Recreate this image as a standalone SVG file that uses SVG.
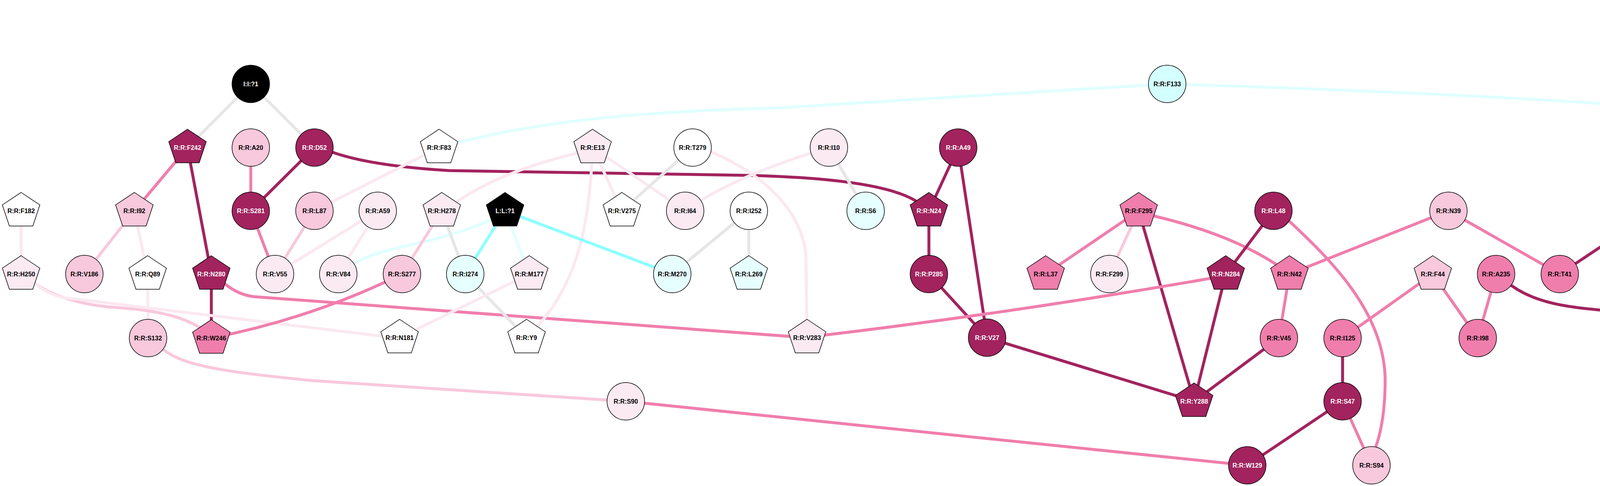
<svg xmlns="http://www.w3.org/2000/svg" xmlns:xlink="http://www.w3.org/1999/xlink" width="5999" height="1245" viewBox="0 0 5999 1245">
<style>
.bg{fill:#fff}
#edges path{fill:none;stroke-width:7.5}
.dk-e{stroke:#A2235E}.md-e{stroke:#F07EAC}.lt-e{stroke:#F8C8DC}.vl-e{stroke:#FBE8F1}.gy-e{stroke:#E6E6E6}.cy-e{stroke:#E0FFFF}.cl-e{stroke:#D4FFFF}.cm-e{stroke:#8CFFFF}
.nd circle,.nd use{stroke:#000;stroke-width:1.5}
.nd text{font-family:"Liberation Sans",Arial,sans-serif;font-size:16px;font-weight:bold;text-anchor:middle;dominant-baseline:central;fill:#000;stroke:none}
.dk{fill:#A2235E}.md{fill:#F07EAC}.lt{fill:#F8C8DC}.vl{fill:#FBEAF2}.wh{fill:#FFFFFF}.cv{fill:#E6FFFF}.cl{fill:#D4FFFF}.cs{fill:#12C6D1}.bk{fill:#000}
.nd.dk text,.nd.bk text{fill:#fff}
</style>
<defs>
<path id="p" d="M0,-47 L48,-15 L30,39 L-30,39 L-48,-15 Z"/>
</defs>
<rect class="bg" x="0" y="0" width="5999" height="1245"/>
<g id="edges">
<path class="gy-e" d="M642,215 L480,378"/>
<path class="gy-e" d="M642,215 L805,378"/>
<path class="md-e" d="M480,378 L344,540"/>
<path class="dk-e" d="M480,378 L541,702"/>
<path class="md-e" d="M642,378 L642,540"/>
<path class="dk-e" d="M805,378 L642,540"/>
<path class="dk-e" d="M805,375 L851,390 Q950,425 1150,437 L1900,449 Q2250,456 2345,515 L2378,540"/>
<path class="vl-e" d="M54,540 L54,702"/>
<path class="lt-e" d="M344,540 L216,702"/>
<path class="vl-e" d="M344,540 L378,702"/>
<path class="dk-e" d="M541,702 L541,866"/>
<path class="md-e" d="M541,702 L577,728 Q610,755 650,760 L2066,865"/>
<path class="md-e" d="M642,540 L704,702"/>
<path class="lt-e" d="M805,540 L704,702"/>
<path class="vl-e" d="M967,540 L704,702"/>
<path class="vl-e" d="M967,540 L866,702"/>
<path class="vl-e" d="M1124,378 L805,540"/>
<path class="vl-e" d="M378,702 L379,866"/>
<path class="lt-e" d="M54,702 L89,726 C140,762 220,783 300,788 C400,795 470,810 520,845 L541,866"/>
<path class="vl-e" d="M54,702 L89,726 Q120,752 160,762 L976,861 L1023,865"/>
<path class="lt-e" d="M379,866 L418,895 C470,940 600,955 800,975 L1602,1028"/>
<path class="md-e" d="M1602,1028 L3193,1192"/>
<path class="md-e" d="M541,866 Q800,815 1029,702"/>
<path class="cy-e" d="M866,702 L906,676 C950,645 1050,630 1130,608 Q1210,585 1260,562 L1293,540"/>
<path class="lt-e" d="M1131,540 L1029,702"/>
<path class="gy-e" d="M1131,540 L1191,702"/>
<path class="vl-e" d="M1131,540 L1166,519 Q1280,440 1478,392 L1517,378"/>
<path class="cy-e" d="M1124,378 C1400,300 1700,285 2000,276 L2988,215"/>
<path class="vl-e" d="M1517,378 L1592,540"/>
<path class="vl-e" d="M1517,378 L1754,540"/>
<path class="vl-e" d="M1517,378 L1515,418 C1505,600 1470,730 1376,836 L1348,865"/>
<path class="gy-e" d="M1773,378 L1592,540"/>
<path class="vl-e" d="M1773,378 L1823,390 C1960,450 2050,540 2063,650 L2066,865"/>
<path class="vl-e" d="M1754,540 Q1880,450 2122,378"/>
<path class="gy-e" d="M2122,378 L2216,540"/>
<path class="cm-e" d="M1293,540 L1191,702"/>
<path class="cy-e" d="M1293,540 L1355,702"/>
<path class="cm-e" d="M1293,540 L1721,702"/>
<path class="gy-e" d="M1191,702 L1348,865"/>
<path class="vl-e" d="M1355,702 L1023,865"/>
<path class="gy-e" d="M1917,540 L1721,702"/>
<path class="gy-e" d="M1917,540 L1917,702"/>
<path class="dk-e" d="M2453,378 L2378,540"/>
<path class="dk-e" d="M2453,378 L2527,865"/>
<path class="dk-e" d="M2378,540 L2378,702"/>
<path class="dk-e" d="M2378,702 L2527,865"/>
<path class="md-e" d="M2915,540 L2677,702"/>
<path class="lt-e" d="M2915,540 L2840,702"/>
<path class="dk-e" d="M2915,540 L3057,1028"/>
<path class="md-e" d="M2915,540 L2957,554 Q3150,600 3268,678 L3301,702"/>
<path class="md-e" d="M2066,865 L2114,858 Q2600,800 3099,713 L3138,702"/>
<path class="dk-e" d="M2527,865 L3057,1028"/>
<path class="dk-e" d="M3260,540 L3138,702"/>
<path class="md-e" d="M3260,540 L3300,566 C3400,660 3548,800 3546,980 Q3545,1080 3522,1145 L3511,1192"/>
<path class="dk-e" d="M3138,702 L3057,1028"/>
<path class="md-e" d="M3301,702 L3274,866"/>
<path class="dk-e" d="M3274,866 L3057,1028"/>
<path class="md-e" d="M3708,540 L3301,702"/>
<path class="md-e" d="M3708,540 L3993,702"/>
<path class="md-e" d="M3668,702 L3437,866"/>
<path class="md-e" d="M3668,702 L3783,866"/>
<path class="md-e" d="M3830,702 L3783,866"/>
<path class="dk-e" d="M3830,702 L3870,732 C3930,775 4010,788 4120,796 C4250,805 4380,830 4517,856 L4562,867"/>
<path class="dk-e" d="M3437,866 L3437,1028"/>
<path class="dk-e" d="M3437,1028 L3193,1192"/>
<path class="md-e" d="M3437,1028 L3511,1192"/>
<path class="dk-e" d="M4237,540 L3993,702"/>
<path class="md-e" d="M4237,540 L4156,704"/>
<path class="md-e" d="M4237,540 L4318,704"/>
<path class="md-e" d="M4237,540 L4481,704"/>
<path class="vl-e" d="M4481,540 L4318,704"/>
<path class="vl-e" d="M4481,540 L4481,704"/>
<path class="gy-e" d="M4481,540 C4650,580 4850,630 4928,674 L4969,704"/>
<path class="vl-e" d="M4481,377 L4481,540"/>
<path class="lt-e" d="M4481,377 L4807,540"/>
<path class="md-e" d="M4807,540 C4950,610 5060,650 5132,704"/>
<path class="vl-e" d="M4156,704 L4237,867"/>
<path class="cy-e" d="M4644,704 C4550,790 4380,830 4237,867"/>
<path class="dk-e" d="M4807,704 L4562,867"/>
<path class="md-e" d="M4807,704 L5132,867"/>
<path class="cy-e" d="M4888,52 L4807,215"/>
<path class="cm-e" d="M4888,52 L4969,215"/>
<path class="cy-e" d="M4644,215 L4644,377"/>
<path class="cy-e" d="M4644,215 L4807,377"/>
<path class="vl-e" d="M4807,215 L4807,377"/>
<path class="gy-e" d="M4807,215 L4969,377"/>
<path class="cy-e" d="M4969,215 L4969,377"/>
<path class="cy-e" d="M4969,215 L5213,377"/>
<path class="cy-e" d="M2988,215 Q3800,240 4300,280 Q4520,300 4644,377"/>
<path class="dk-e" d="M5294,52 L5132,215"/>
<path class="md-e" d="M5294,52 L5457,215"/>
<path class="lt-e" d="M5132,215 L4969,377"/>
<path class="gy-e" d="M5294,215 L5213,377"/>
<path class="vl-e" d="M5457,215 L5498,377"/>
<path class="gy-e" d="M5620,215 L5498,377"/>
<path class="cy-e" d="M5620,215 L5700,377"/>
<path class="cl-e" d="M5864,52 L5782,215"/>
<path class="cy-e" d="M5864,52 L5945,215"/>
<path class="cy-e" d="M5945,215 L5700,377"/>
<path class="md-e" d="M5213,540 L5132,704"/>
<path class="lt-e" d="M5213,540 L5294,704"/>
<path class="dk-e" d="M5457,540 L5457,704"/>
<path class="md-e" d="M5457,704 L5417,730 Q5310,800 5178,846 L5132,867"/>
</g>
<g id="nodes">
<g id="n-I1" class="nd bk"><circle cx="642" cy="215" r="48"/><text x="642" y="215">I:I:?1</text></g>
<g id="n-F242" class="nd dk"><use xlink:href="#p" x="480" y="378"/><text x="480" y="378">R:R:F242</text></g>
<g id="n-A20" class="nd lt"><circle cx="642" cy="378" r="48"/><text x="642" y="378">R:R:A20</text></g>
<g id="n-D52" class="nd dk"><circle cx="805" cy="378" r="48"/><text x="805" y="378">R:R:D52</text></g>
<g id="n-F182" class="nd wh"><use xlink:href="#p" x="54" y="540"/><text x="54" y="540">R:R:F182</text></g>
<g id="n-I92" class="nd lt"><use xlink:href="#p" x="344" y="540"/><text x="344" y="540">R:R:I92</text></g>
<g id="n-S281" class="nd dk"><circle cx="642" cy="540" r="48"/><text x="642" y="540">R:R:S281</text></g>
<g id="n-L87" class="nd lt"><circle cx="805" cy="540" r="48"/><text x="805" y="540">R:R:L87</text></g>
<g id="n-A59" class="nd vl"><circle cx="967" cy="540" r="48"/><text x="967" y="540">R:R:A59</text></g>
<g id="n-H250" class="nd vl"><use xlink:href="#p" x="54" y="702"/><text x="54" y="702">R:R:H250</text></g>
<g id="n-V186" class="nd lt"><circle cx="216" cy="702" r="48"/><text x="216" y="702">R:R:V186</text></g>
<g id="n-Q89" class="nd wh"><use xlink:href="#p" x="378" y="702"/><text x="378" y="702">R:R:Q89</text></g>
<g id="n-N280" class="nd dk"><use xlink:href="#p" x="541" y="702"/><text x="541" y="702">R:R:N280</text></g>
<g id="n-V55" class="nd vl"><circle cx="704" cy="702" r="48"/><text x="704" y="702">R:R:V55</text></g>
<g id="n-V84" class="nd vl"><circle cx="866" cy="702" r="48"/><text x="866" y="702">R:R:V84</text></g>
<g id="n-S277" class="nd lt"><circle cx="1029" cy="702" r="48"/><text x="1029" y="702">R:R:S277</text></g>
<g id="n-S132" class="nd lt"><circle cx="379" cy="866" r="48"/><text x="379" y="866">R:R:S132</text></g>
<g id="n-W246" class="nd md"><use xlink:href="#p" x="541" y="866"/><text x="541" y="866">R:R:W246</text></g>
<g id="n-F83" class="nd wh"><use xlink:href="#p" x="1124" y="378"/><text x="1124" y="378">R:R:F83</text></g>
<g id="n-E13" class="nd vl"><use xlink:href="#p" x="1517" y="378"/><text x="1517" y="378">R:R:E13</text></g>
<g id="n-T279" class="nd wh"><circle cx="1773" cy="378" r="48"/><text x="1773" y="378">R:R:T279</text></g>
<g id="n-H278" class="nd vl"><use xlink:href="#p" x="1131" y="540"/><text x="1131" y="540">R:R:H278</text></g>
<g id="n-L1" class="nd bk"><use xlink:href="#p" x="1293" y="540"/><text x="1293" y="540">L:L:?1</text></g>
<g id="n-V275" class="nd wh"><use xlink:href="#p" x="1592" y="540"/><text x="1592" y="540">R:R:V275</text></g>
<g id="n-I64" class="nd vl"><circle cx="1754" cy="540" r="48"/><text x="1754" y="540">R:R:I64</text></g>
<g id="n-I252" class="nd wh"><circle cx="1917" cy="540" r="48"/><text x="1917" y="540">R:R:I252</text></g>
<g id="n-I274" class="nd cv"><circle cx="1191" cy="702" r="48"/><text x="1191" y="702">R:R:I274</text></g>
<g id="n-M177" class="nd vl"><use xlink:href="#p" x="1355" y="702"/><text x="1355" y="702">R:R:M177</text></g>
<g id="n-M270" class="nd cv"><circle cx="1721" cy="702" r="48"/><text x="1721" y="702">R:R:M270</text></g>
<g id="n-L269" class="nd cv"><use xlink:href="#p" x="1917" y="702"/><text x="1917" y="702">R:R:L269</text></g>
<g id="n-N181" class="nd wh"><use xlink:href="#p" x="1023" y="865"/><text x="1023" y="865">R:R:N181</text></g>
<g id="n-Y9" class="nd wh"><use xlink:href="#p" x="1348" y="865"/><text x="1348" y="865">R:R:Y9</text></g>
<g id="n-S90" class="nd vl"><circle cx="1602" cy="1028" r="48"/><text x="1602" y="1028">R:R:S90</text></g>
<g id="n-F133" class="nd cl"><circle cx="2988" cy="215" r="48"/><text x="2988" y="215">R:R:F133</text></g>
<g id="n-I10" class="nd vl"><circle cx="2122" cy="378" r="48"/><text x="2122" y="378">R:R:I10</text></g>
<g id="n-A49" class="nd dk"><circle cx="2453" cy="378" r="48"/><text x="2453" y="378">R:R:A49</text></g>
<g id="n-S6" class="nd cv"><circle cx="2216" cy="540" r="48"/><text x="2216" y="540">R:R:S6</text></g>
<g id="n-N24" class="nd dk"><use xlink:href="#p" x="2378" y="540"/><text x="2378" y="540">R:R:N24</text></g>
<g id="n-F295" class="nd md"><use xlink:href="#p" x="2915" y="540"/><text x="2915" y="540">R:R:F295</text></g>
<g id="n-P285" class="nd dk"><circle cx="2378" cy="702" r="48"/><text x="2378" y="702">R:R:P285</text></g>
<g id="n-L37" class="nd md"><use xlink:href="#p" x="2677" y="702"/><text x="2677" y="702">R:R:L37</text></g>
<g id="n-F299" class="nd vl"><circle cx="2840" cy="702" r="48"/><text x="2840" y="702">R:R:F299</text></g>
<g id="n-V283" class="nd vl"><use xlink:href="#p" x="2066" y="865"/><text x="2066" y="865">R:R:V283</text></g>
<g id="n-V27" class="nd dk"><circle cx="2527" cy="865" r="48"/><text x="2527" y="865">R:R:V27</text></g>
<g id="n-L48" class="nd dk"><circle cx="3260" cy="540" r="48"/><text x="3260" y="540">R:R:L48</text></g>
<g id="n-N39" class="nd lt"><circle cx="3708" cy="540" r="48"/><text x="3708" y="540">R:R:N39</text></g>
<g id="n-N284" class="nd dk"><use xlink:href="#p" x="3138" y="702"/><text x="3138" y="702">R:R:N284</text></g>
<g id="n-N42" class="nd md"><use xlink:href="#p" x="3301" y="702"/><text x="3301" y="702">R:R:N42</text></g>
<g id="n-F44" class="nd lt"><use xlink:href="#p" x="3668" y="702"/><text x="3668" y="702">R:R:F44</text></g>
<g id="n-A235" class="nd md"><circle cx="3830" cy="702" r="48"/><text x="3830" y="702">R:R:A235</text></g>
<g id="n-T41" class="nd md"><circle cx="3993" cy="702" r="48"/><text x="3993" y="702">R:R:T41</text></g>
<g id="n-V45" class="nd md"><circle cx="3274" cy="866" r="48"/><text x="3274" y="866">R:R:V45</text></g>
<g id="n-I125" class="nd md"><circle cx="3437" cy="866" r="48"/><text x="3437" y="866">R:R:I125</text></g>
<g id="n-I98" class="nd md"><circle cx="3783" cy="866" r="48"/><text x="3783" y="866">R:R:I98</text></g>
<g id="n-Y288" class="nd dk"><use xlink:href="#p" x="3057" y="1028"/><text x="3057" y="1028">R:R:Y288</text></g>
<g id="n-S47" class="nd dk"><circle cx="3437" cy="1028" r="48"/><text x="3437" y="1028">R:R:S47</text></g>
<g id="n-W129" class="nd dk"><circle cx="3193" cy="1192" r="48"/><text x="3193" y="1192">R:R:W129</text></g>
<g id="n-S94" class="nd lt"><circle cx="3511" cy="1192" r="48"/><text x="3511" y="1192">R:R:S94</text></g>
<g id="n-C146" class="nd cs"><use xlink:href="#p" x="4888" y="52"/><text x="4888" y="52">R:R:C146</text></g>
<g id="n-L137" class="nd cl"><circle cx="4644" cy="215" r="48"/><text x="4644" y="215">R:R:L137</text></g>
<g id="n-L78" class="nd vl"><use xlink:href="#p" x="4807" y="215"/><text x="4807" y="215">R:R:L78</text></g>
<g id="n-C74" class="nd cl"><circle cx="4969" cy="215" r="48"/><text x="4969" y="215">R:R:C74</text></g>
<g id="n-I100" class="nd vl"><circle cx="4481" cy="377" r="48"/><text x="4481" y="377">R:R:I100</text></g>
<g id="n-V86" class="nd cv"><circle cx="4644" cy="377" r="48"/><text x="4644" y="377">R:R:V86</text></g>
<g id="n-M140" class="nd wh"><circle cx="4807" cy="377" r="48"/><text x="4807" y="377">R:R:M140</text></g>
<g id="n-V171" class="nd cv"><circle cx="4969" cy="377" r="48"/><text x="4969" y="377">R:R:V171</text></g>
<g id="n-D101" class="nd dk"><use xlink:href="#p" x="4237" y="540"/><text x="4237" y="540">R:R:D101</text></g>
<g id="n-I104" class="nd wh"><use xlink:href="#p" x="4481" y="540"/><text x="4481" y="540">R:R:I104</text></g>
<g id="n-L96" class="nd lt"><circle cx="4807" cy="540" r="48"/><text x="4807" y="540">R:R:L96</text></g>
<g id="n-V40" class="nd vl"><use xlink:href="#p" x="4156" y="704"/><text x="4156" y="704">R:R:V40</text></g>
<g id="n-Y112" class="nd lt"><use xlink:href="#p" x="4318" y="704"/><text x="4318" y="704">R:R:Y112</text></g>
<g id="n-V116" class="nd lt"><use xlink:href="#p" x="4481" y="704"/><text x="4481" y="704">R:R:V116</text></g>
<g id="n-G118" class="nd cs"><circle cx="4644" cy="704" r="48"/><text x="4644" y="704">R:R:G118</text></g>
<g id="n-A99" class="nd dk"><circle cx="4807" cy="704" r="48"/><text x="4807" y="704">R:R:A99</text></g>
<g id="n-I108" class="nd wh"><circle cx="4969" cy="704" r="48"/><text x="4969" y="704">R:R:I108</text></g>
<g id="n-Y43" class="nd wh"><circle cx="4237" cy="867" r="48"/><text x="4237" y="867">R:R:Y43</text></g>
<g id="n-Y197" class="nd dk"><use xlink:href="#p" x="4562" y="867"/><text x="4562" y="867">R:R:Y197</text></g>
<g id="n-C166" class="nd dk"><circle cx="5294" cy="52" r="48"/><text x="5294" y="52">R:R:C166</text></g>
<g id="n-A165" class="nd cl"><circle cx="5864" cy="52" r="48"/><text x="5864" y="52">R:R:A165</text></g>
<g id="n-C77" class="nd dk"><circle cx="5132" cy="215" r="48"/><text x="5132" y="215">R:R:C77</text></g>
<g id="n-P149" class="nd wh"><circle cx="5294" cy="215" r="48"/><text x="5294" y="215">R:R:P149</text></g>
<g id="n-F70" class="nd lt"><use xlink:href="#p" x="5457" y="215"/><text x="5457" y="215">R:R:F70</text></g>
<g id="n-G69" class="nd cv"><circle cx="5620" cy="215" r="48"/><text x="5620" y="215">R:R:G69</text></g>
<g id="n-Q157" class="nd cl"><use xlink:href="#p" x="5782" y="215"/><text x="5782" y="215">R:R:Q157</text></g>
<g id="n-K153" class="nd cv"><use xlink:href="#p" x="5945" y="215"/><text x="5945" y="215">R:R:K153</text></g>
<g id="n-V164" class="nd cv"><circle cx="5213" cy="377" r="48"/><text x="5213" y="377">R:R:V164</text></g>
<g id="n-T68" class="nd wh"><circle cx="5498" cy="377" r="48"/><text x="5498" y="377">R:R:T68</text></g>
<g id="n-L167" class="nd cv"><circle cx="5700" cy="377" r="48"/><text x="5700" y="377">R:R:L167</text></g>
<g id="n-A239" class="nd md"><circle cx="5213" cy="540" r="48"/><text x="5213" y="540">R:R:A239</text></g>
<g id="n-I106" class="nd md"><use xlink:href="#p" x="5457" y="540"/><text x="5457" y="540">R:R:I106</text></g>
<g id="n-M193" class="nd md"><circle cx="5132" cy="704" r="48"/><text x="5132" y="704">R:R:M193</text></g>
<g id="n-G240" class="nd wh"><circle cx="5294" cy="704" r="48"/><text x="5294" y="704">R:R:G240</text></g>
<g id="n-I200" class="nd dk"><circle cx="5457" cy="704" r="48"/><text x="5457" y="704">R:R:I200</text></g>
<g id="n-V196" class="nd lt"><circle cx="5132" cy="867" r="48"/><text x="5132" y="867">R:R:V196</text></g>
</g>
</svg>
